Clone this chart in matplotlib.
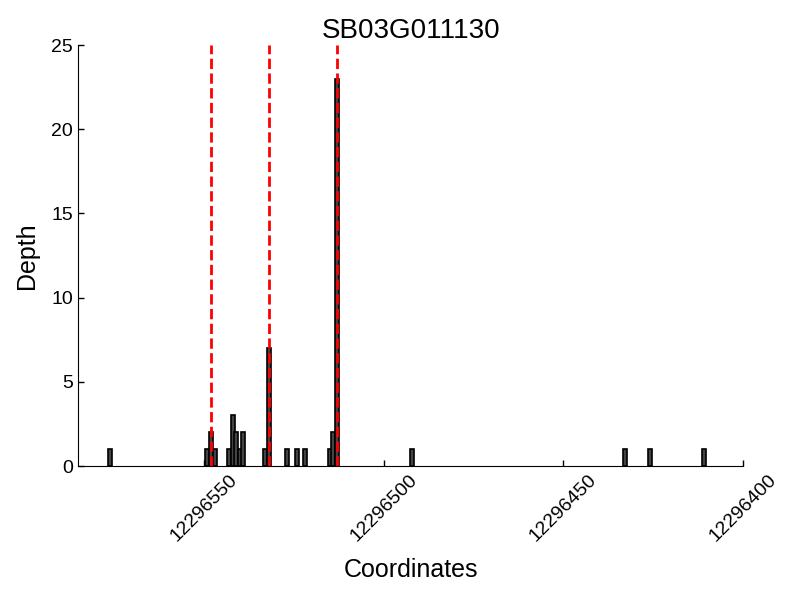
import matplotlib
matplotlib.use("Agg")
import matplotlib.pyplot as plt

plt.rcParams['font.family'] = ['Liberation Sans', 'DejaVu Sans']

# depth per coordinate
coords = [12296576, 12296549, 12296548, 12296547, 12296543, 12296542, 12296541,
          12296540, 12296539, 12296533, 12296532, 12296527, 12296524, 12296522,
          12296515, 12296514, 12296513, 12296492, 12296433, 12296426, 12296411]
depth = [1, 1, 2, 1, 1, 3, 2, 1, 2, 1, 7, 1, 1, 1, 1, 2, 23, 1, 1, 1, 1]

# red dashed marker positions
marks = [12296548, 12296532, 12296513]

xticks = [12296550, 12296500, 12296450, 12296400]

fig = plt.figure(figsize=(8, 6), dpi=100)
ax = fig.add_axes([0.0975, 0.2233, 0.8315, 0.7017])

ax.bar(coords, depth, width=1.1, color='#444444', edgecolor='black', linewidth=1.2)
for m in marks:
    ax.axvline(m, color='red', linestyle='--', linewidth=2)

ax.set_xlim(12296585, 12296400)
ax.set_ylim(0, 25)
ax.set_xticks(xticks)
ax.set_xticklabels([str(t) for t in xticks], rotation=45, fontsize=14)
ax.set_yticks([0, 5, 10, 15, 20, 25])
ax.tick_params(axis='y', labelsize=14)
ax.tick_params(direction='in', length=4, width=1, top=False, right=False)

ax.spines['top'].set_visible(False)
ax.spines['right'].set_visible(False)

ax.set_xlabel('Coordinates', fontsize=18, labelpad=10)
ax.set_ylabel('Depth', fontsize=18, labelpad=9)
ax.set_title('SB03G011130', fontsize=20, pad=5)

fig.savefig('out.png', dpi=100)
